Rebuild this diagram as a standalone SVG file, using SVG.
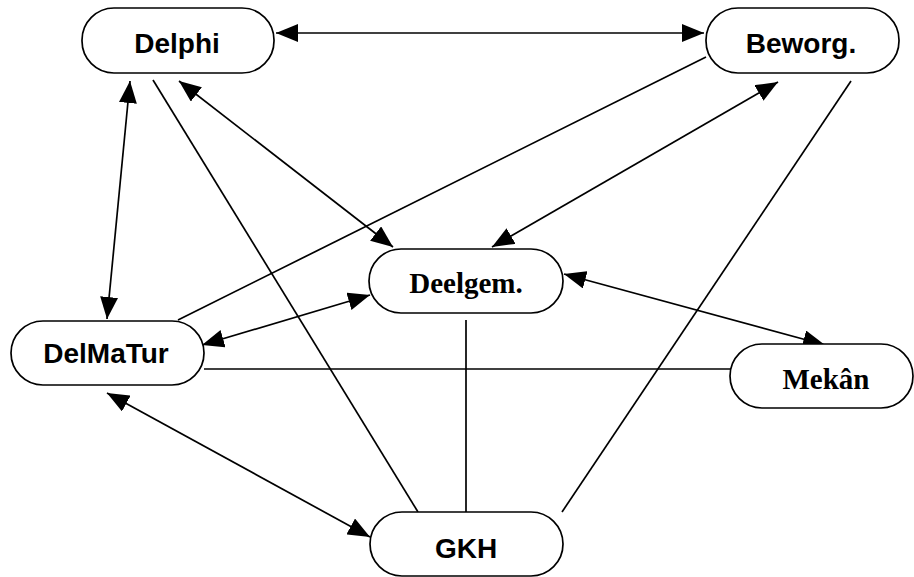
<svg xmlns="http://www.w3.org/2000/svg" width="914" height="577" viewBox="0 0 914 577">
<style>
.box{fill:#fff;stroke:#000;stroke-width:1.7}
.ln{stroke:#000;stroke-width:1.7;fill:none}
.ar{marker-start:url(#ah);marker-end:url(#ah)}
.sans{font-family:"Liberation Sans",Arial,sans-serif;font-weight:bold;font-size:28px;text-anchor:middle}
.serif{font-family:"Liberation Serif","Times New Roman",serif;font-weight:bold;font-size:29px;text-anchor:middle}
</style>
<defs>
<marker id="ah" markerUnits="userSpaceOnUse" markerWidth="24" markerHeight="18" refX="22" refY="9" orient="auto-start-reverse" viewBox="0 0 24 18">
<path d="M0,0 L22,9 L0,18 z" fill="#000"/>
</marker>
</defs>
<rect width="914" height="577" fill="#fff"/>
<g id="connectors">
<line class="ln ar" x1="276" y1="33" x2="704" y2="33"/>
<line class="ln ar" x1="130" y1="81" x2="107" y2="319"/>
<line class="ln ar" x1="179" y1="81" x2="393" y2="247"/>
<line class="ln ar" x1="778" y1="82" x2="492" y2="247"/>
<line class="ln ar" x1="370" y1="295" x2="202" y2="345"/>
<line class="ln ar" x1="564" y1="274" x2="825" y2="345"/>
<line class="ln ar" x1="107" y1="393" x2="370" y2="537"/>
<line class="ln" x1="153" y1="80" x2="418" y2="512"/>
<line class="ln" x1="706" y1="57" x2="178" y2="320"/>
<line class="ln" x1="851" y1="81" x2="562" y2="512"/>
<line class="ln" x1="466" y1="320" x2="466" y2="512"/>
<line class="ln" x1="204" y1="369" x2="731" y2="369"/>
</g>
<g id="delphi">
<rect class="box" x="82" y="8" width="192" height="65" rx="32" ry="32"/>
<text class="sans" x="177" y="53">Delphi</text>
</g>
<g id="beworg">
<rect class="box" x="706" y="8" width="193" height="65" rx="32" ry="32"/>
<text class="sans" x="801" y="53">Beworg.</text>
</g>
<g id="deelgem">
<rect class="box" x="369" y="249" width="194" height="64" rx="32" ry="32"/>
<text class="serif" x="466" y="293">Deelgem.</text>
</g>
<g id="delmatur">
<rect class="box" x="11" y="321" width="193" height="64" rx="32" ry="32"/>
<text class="sans" x="106" y="363">DelMaTur</text>
</g>
<g id="mekan">
<rect class="box" x="730" y="344" width="183" height="64" rx="32" ry="32"/>
<text class="serif" x="826" y="389">Mekân</text>
</g>
<g id="gkh">
<rect class="box" x="370" y="512" width="193" height="64" rx="32" ry="32"/>
<text class="sans" x="466" y="558">GKH</text>
</g>
</svg>
